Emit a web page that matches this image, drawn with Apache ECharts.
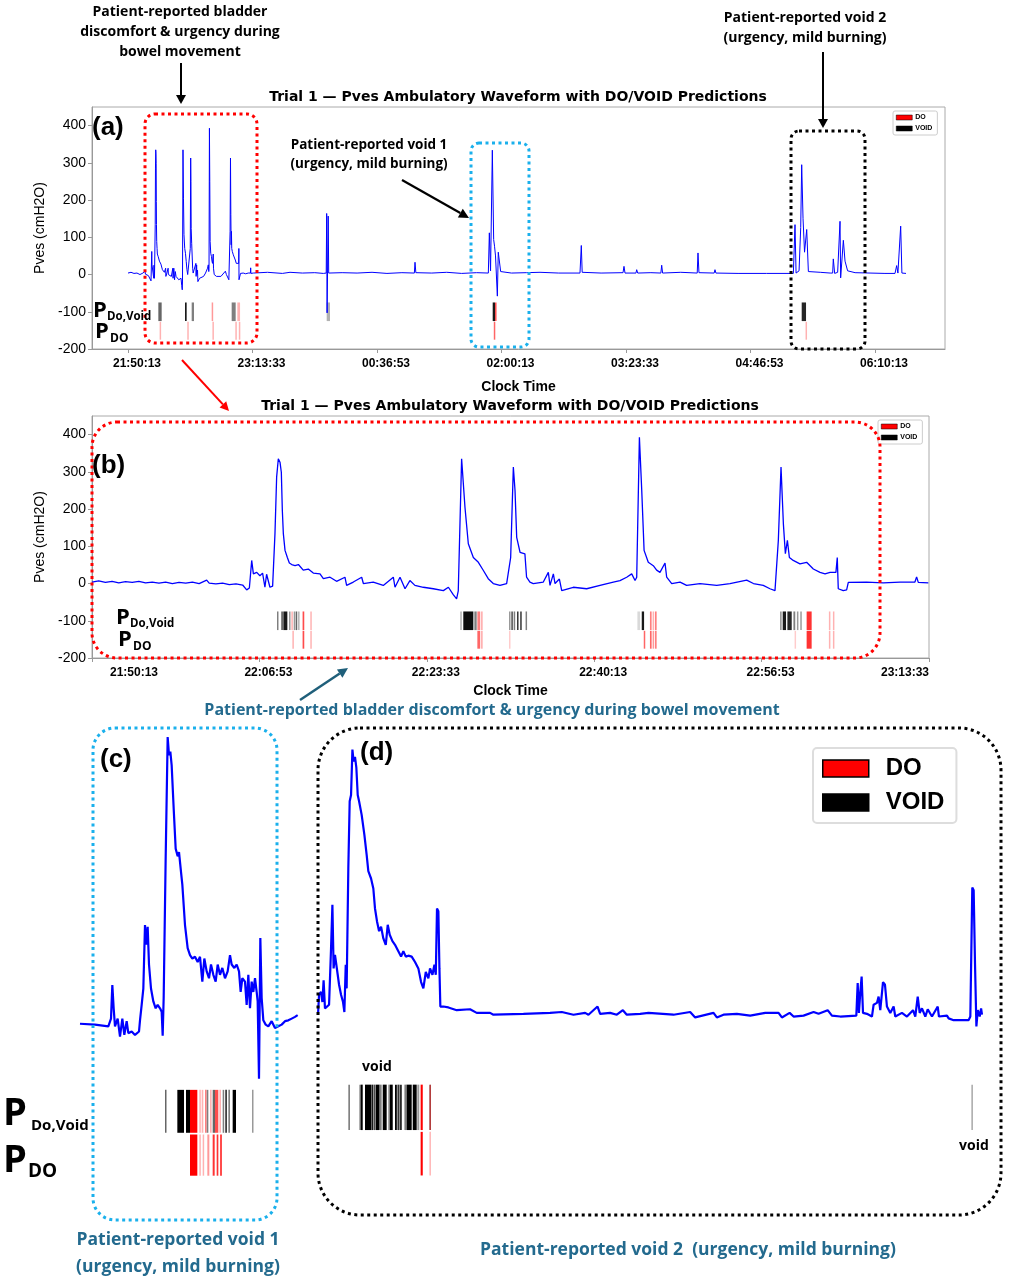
<!DOCTYPE html>
<html>
<head>
<meta charset="utf-8">
<script src="https://cdn.jsdelivr.net/npm/echarts@6/dist/echarts.min.js"></script>
<style>
html,body{margin:0;padding:0;background:#fff}
#chart{width:1010px;height:1285px}
</style>
</head>
<body>
<div id="chart"></div>
<script>
// 开始时刻 21:50:13，时间单位为秒
var START = 21 * 3600 + 50 * 60 + 13;

// (b) 21:50 - 23:13 段的压力波形 [秒, cmH2O]
var bWave = [[0,4],[40,7],[80,3],[120,6],[160,2],[200,5],[240,3],[280,6],[320,2],[360,4],[400,1],[440,4],[480,0],[520,3],[560,1],[600,4],[640,0],[685,9],[700,1],[740,-1],[780,1],[820,-3],[860,-1],[900,-4],[924,-17],[940,-12],
  [954,62],[964,26],[984,30],[1003,21],[1019,28],[1033,-10],[1043,25],[1063,-10],[1079,-7],[1093,134],[1103,286],[1113,335],[1123,326],[1131,299],[1137,196],[1143,134],[1153,89],[1167,70],[1179,55],[1193,51],[1213,48],[1233,51],[1262,36],[1292,39],[1322,28],[1362,26],[1382,13],[1422,17],[1461,6],[1511,17],[1521,-5],[1561,4],[1611,17],[1621,0],[1680,4],[1740,-5],[1800,17],[1810,-10],[1840,17],[1870,-14],[1899,8],[1929,-5],[1979,-10],[2039,-14],[2099,-19],[2129,-10],[2158,-30],[2178,-41],[2188,-20],
  [2208,335],[2228,205],[2248,107],[2278,70],[2308,57],[2338,35],[2367,13],[2397,0],[2437,-5],[2477,0],[2501,70],[2517,313],[2527,250],[2537,124],[2557,84],[2586,80],[2596,17],[2616,4],[2636,0],[2696,4],[2726,30],[2736,-5],[2756,26],[2766,0],[2792,12],[2806,-19],[2875,-10],[2955,-14],[3035,-5],[3114,4],[3154,8],[3194,17],[3224,26],[3244,8],[3254,17],
  [3270,393],[3284,250],[3298,89],[3323,57],[3353,48],[3373,36],[3393,30],[3423,55],[3433,17],[3463,0],[3513,4],[3552,-5],[3632,0],[3732,-5],[3811,0],[3911,9],[3951,0],[4010,-5],[4050,-14],[4080,-19],
  [4100,116],[4116,313],[4130,161],[4142,80],[4154,116],[4166,70],[4189,62],[4229,53],[4269,57],[4309,39],[4349,30],[4379,26],[4409,30],[4444,30],[4452,70],[4458,-14],[4488,-19],[4508,-17],[4518,3],[4627,4],[4727,2],[4827,4],[4916,4],[4926,18],[4936,3],[4996,2]];

// (a) 23:13 之后的波形
var aWaveRest = [[5033,4],[5600,6],[6200,3],[6506,6],[7000,4],[7500,5],[7844,3],[7960,4],[7979,164],[7995,-103],[8040,157],[8060,4],[8100,2],[8600,5],[9200,4],[9800,6],[10400,3],[11000,5],[11500,4],[11526,33],[11560,5],[12200,4],[12800,6],[13400,3],[14000,5],[14471,4],[14512,112],[14560,10],[14632,334],[14685,94],[14720,76],[14760,50],[14833,-58],[14870,60],[14966,8],[15400,4],[16000,5],[16546,6],[17300,4],[18152,4],[18205,78],[18240,6],[19000,4],[19880,5],[19919,22],[19960,4],[20400,4],[20429,13],[20470,4],[21000,5],[21400,4],[21433,25],[21470,4],[22200,6],[22860,4],[22891,58],[22930,5],[23540,4],[23574,13],[23610,4],[24500,3],[25650,3],[26721,3],[26787,134],[26830,4],[26950,10],[27016,126],[27056,295],[27110,150],[27170,60],[27257,121],[27324,8],[27800,6],[28200,4],[28300,4],[28325,42],[28380,3],[28500,6],[28570,4],[28595,143],[28620,-9],[28729,92],[28796,36],[28900,10],[29200,5],[29800,4],[30400,3],[30803,3],[30870,24],[30920,4],[31031,130],[31080,4],[31245,3]];

// (c) 排尿 1 放大
var cWave = [[0,2],[45,1],[85,-1],[93,8],[97,47],[101,20],[105,-1],[113,8],[120,-13],[127,8],[133,-11],[140,5],[145,-9],[155,-7],[165,-11],[177,-7],[180,6],[185,24],[190,43],[195,117],[199,94],[203,115],[207,71],[213,43],[220,28],[227,20],[233,24],[240,20],[245,16],[248,-12],[251,32],[257,195],[263,336],[267,315],[271,319],[275,303],[281,253],[287,206],[293,197],[297,202],[303,179],[307,164],[315,117],[323,90],[330,82],[337,78],[345,80],[353,74],[360,80],[367,51],[373,78],[380,63],[387,55],[393,71],[400,59],[407,51],[413,71],[420,59],[427,67],[435,55],[443,63],[450,82],[455,71],[463,67],[470,71],[477,63],[482,39],[487,55],[495,51],[500,24],[505,59],[510,20],[515,51],[520,39],[525,55],[530,39],[533,28],[537,-62],[541,102],[545,32],[550,6],[557,1],[565,-1],[575,5],[585,-3],[595,-1],[605,1],[615,5],[625,6],[635,8],[645,10],[653,12]];

// (d) 排尿 2 放大
var dWave = [[0,2],[7,24],[20,27],[29,16],[37,40],[46,9],[59,7],[73,13],[86,75],[95,123],[103,53],[112,68],[121,57],[130,46],[139,35],[152,24],[165,16],[174,5],[183,57],[189,31],[200,163],[209,237],[218,244],[227,294],[235,281],[244,286],[253,274],[262,244],[271,237],[288,222],[306,200],[321,178],[332,160],[350,152],[365,141],[376,119],[389,105],[403,94],[416,99],[431,86],[447,79],[460,101],[473,90],[491,83],[508,79],[530,72],[548,66],[563,72],[579,66],[596,67],[618,66],[640,60],[662,53],[680,38],[695,31],[711,49],[728,42],[739,53],[755,46],[768,57],[777,46],[785,119],[794,116],[801,53],[807,11],[827,11],[860,10],[915,7],
  [1003,8],[1047,4],[1135,4],[1157,2],[1355,3],[1531,4],[1608,5],[1685,2],[1762,4],[1784,2],[1844,11],[1861,3],[1927,4],[1971,2],[2011,7],[2037,2],[2125,3],[2180,4],[2345,2],[2455,5],[2488,-1],[2609,4],[2631,-1],[2675,2],[2763,3],[2851,1],[2950,4],[3038,4],[3060,-1],[3111,4],[3137,0],[3203,1],[3269,5],[3302,3],[3362,7],[3390,1],[3445,0],
  [3551,1],[3560,37],[3568,4],[3577,26],[3586,44],[3595,4],[3621,3],[3654,0],[3665,13],[3687,15],[3698,22],[3709,7],[3727,38],[3740,35],[3753,11],[3775,4],[3797,11],[3808,0],[3852,4],[3885,0],[3925,7],[3940,0],[3956,22],[3969,4],[3984,9],[4006,0],[4022,8],[4050,0],[4088,11],[4096,0],[4149,1],[4160,-2],[4193,-4],[4292,-4],[4303,0],[4316,142],[4325,139],[4334,57],[4343,-11],[4352,7],[4365,0],[4374,9],[4380,2]];

// 预测条 [起, 止, 概率]
var aVoid = [[1218,1352,0.6],[2289,2356,0.9],[2557,2650,0.5],[4163,4324,0.5],[7979,8113,0.3],[14646,14740,0.9],[27056,27230,0.85]];
var aVoidDo = [[3360,3400,0.4],[4390,4500,0.3],[14740,14780,0.7]];
var aDo = [[1270,1310,0.3],[2380,2420,0.3],[3390,3430,0.3],[4310,4350,0.3],[4450,4490,0.3],[14690,14730,0.6],[27210,27250,0.3]];

var bVoid = [[1105,1110,0.5],[1131,1136,0.7],[1143,1167,0.9],[1177,1181,0.4],[1205,1209,0.4],[1217,1222,0.6],[1231,1235,0.3],[2200,2204,0.3],[2218,2278,0.95],[2284,2298,0.5],[2491,2495,0.4],[2505,2510,0.7],[2519,2523,0.5],[2539,2544,0.8],[2558,2563,0.8],[2590,2595,0.5],[3258,3274,0.15],[3284,3298,0.9],[4110,4120,0.4],[4126,4146,0.9],[4154,4180,0.85],[4190,4201,0.5],[4211,4215,0.4],[4231,4235,0.4]];
var bVoidDo = [[1191,1195,0.3],[1258,1268,0.7],[1304,1308,0.3],[2302,2318,0.5],[2322,2334,0.3],[3333,3343,0.5],[3349,3357,0.3],[3363,3373,0.5],[4269,4299,0.8],[4402,4406,0.3],[4426,4430,0.3]];
var bDo = [[1197,1201,0.3],[1258,1268,0.7],[1304,1308,0.3],[2302,2318,0.6],[2322,2334,0.3],[2491,2495,0.2],[3296,3300,0.6],[3333,3343,0.6],[3349,3357,0.4],[3363,3373,0.5],[4197,4201,0.2],[4269,4299,0.8],[4402,4408,0.3],[4426,4432,0.3]];

var cVoid = [[255,259,0.6],[292,312,1],[318,330,1],[380,385,0.5],[398,405,0.6],[428,432,0.5],[436,440,0.9],[445,450,0.5],[458,468,1],[516,520,0.4]];
var cVoidDo = [[330,352,1],[358,362,0.3],[365,370,0.3],[375,378,0.5],[390,395,0.3],[405,415,0.7],[418,423,0.3]];
var cDo = [[330,352,1],[358,362,0.3],[368,372,0.3],[382,388,0.4],[398,404,0.8],[410,415,0.8],[420,426,0.7]];

var dVoid = [[200,211,0.5],[273,282,0.5],[282,295,1],[310,350,1],[352,365,0.9],[368,380,0.7],[382,405,1],[405,420,0.5],[427,453,1],[464,475,0.5],[475,493,1],[508,520,1],[524,538,0.8],[542,552,1],[570,585,0.5],[585,618,1],[625,651,1],[655,668,0.4],[735,744,0.6],[4310,4318,0.35]];
var dVoidDo = [[677,691,1],[735,744,0.5]];
var dDo = [[677,691,1],[735,744,0.3]];

var aTicks = [0, 5000, 10000, 15000, 20000, 25000, 30000];
var bTicks = [0, 1000, 2000, 3000, 4000, 5000];
var yTicks = [-200, -100, 0, 100, 200, 300, 400];

// 两行条带的纵向范围（cmH2O 坐标）
var ROWS = [[-75, -125], [-127, -175]];

function pad(n) { return (n < 10 ? '0' : '') + n; }
function clock(s) {
    var t = (START + s) % 86400;
    return pad(Math.floor(t / 3600)) + ':' + pad(Math.floor(t % 3600 / 60)) + ':' + pad(Math.round(t % 60));
}
function rows(list, row) {
    return list.map(function (d) { return [d[0], d[1], row, d[2]]; });
}
function renderBar(params, api) {
    var band = ROWS[api.value(2)];
    var p0 = api.coord([api.value(0), band[0]]);
    var p1 = api.coord([api.value(1), band[1]]);
    return {
        type: 'rect',
        shape: { x: p0[0], y: p0[1], width: Math.max(p1[0] - p0[0], 1.5), height: p1[1] - p0[1] },
        style: { fill: api.visual('color'), opacity: api.value(3) }
    };
}

var tickFont = { fontFamily: 'Liberation Sans', fontWeight: 'bold', fontSize: 12, color: '#000' };
function timeAxis(idx, max, ticks) {
    return {
        type: 'value', gridIndex: idx, min: idx === 0 ? -1446 : 0, max: max,
        name: 'Clock Time', nameLocation: 'middle', nameGap: idx === 0 ? 31 : 26,
        nameTextStyle: { fontFamily: 'Liberation Sans', fontWeight: 'bold', fontSize: 14, color: '#000' },
        axisLine: { show: true, onZero: false, lineStyle: { color: '#999' } },
        axisTick: { show: true, length: 4, lineStyle: { color: '#999' }, customValues: ticks },
        axisLabel: Object.assign({ customValues: ticks, margin: 9, padding: [0, 0, 0, 18],
            alignMinLabel: idx === 1 ? 'left' : 'center', alignMaxLabel: idx === 1 ? 'right' : 'center',
            formatter: function (v) { return clock(v); } }, tickFont),
        splitLine: { show: false }
    };
}
function pvesAxis(idx) {
    return {
        type: 'value', gridIndex: idx, min: -200, max: 450,
        name: 'Pves (cmH2O)', nameLocation: 'middle', nameGap: 45,
        nameTextStyle: { fontFamily: 'Liberation Sans', fontSize: 14, color: '#000' },
        axisLine: { show: true, onZero: false, lineStyle: { color: '#999' } },
        axisTick: { show: true, length: 4, lineStyle: { color: '#999' }, customValues: yTicks },
        axisLabel: { customValues: yTicks, fontFamily: 'Liberation Sans', fontSize: 14, color: '#000', margin: 6 },
        splitLine: { show: false }
    };
}

function barSeries(name, color, idx, data) {
    return { name: name, type: 'custom', xAxisIndex: idx, yAxisIndex: idx, renderItem: renderBar,
        itemStyle: { color: color }, data: data, z: 3, silent: true };
}
function waveSeries(idx, data, width) {
    return { name: 'Pves', type: 'line', xAxisIndex: idx, yAxisIndex: idx, data: data, showSymbol: false,
        lineStyle: { color: '#0000ff', width: width }, z: 4, silent: true };
}

// 标注：虚线框、箭头、文字
function dotBox(x, y, w, h, r, color) {
    return { type: 'rect', z: 50, shape: { x: x, y: y, width: w, height: h, r: r },
        style: { fill: null, stroke: color, lineWidth: 3, lineDash: [3, 3.5] } };
}
function arrow(x1, y1, x2, y2, color, lw, hl, hw) {
    var a = Math.atan2(y2 - y1, x2 - x1), c = Math.cos(a), s = Math.sin(a);
    var bx = x2 - hl * c, by = y2 - hl * s;
    return [
        { type: 'line', z: 60, shape: { x1: x1, y1: y1, x2: bx, y2: by }, style: { stroke: color, lineWidth: lw } },
        { type: 'polygon', z: 60, shape: { points: [[x2, y2], [bx - hw * s, by + hw * c], [bx + hw * s, by - hw * c]] }, style: { fill: color } }
    ];
}
var ANN = 'Open Sans';
function txt(x, y, text, size, opt) {
    opt = opt || {};
    return { type: 'text', z: 70, x: x, y: y, style: {
        text: text, fontSize: size, fontWeight: opt.weight || 'bold', fontFamily: opt.font || ANN,
        fill: opt.color || '#000', align: opt.align || 'center', verticalAlign: 'middle', lineHeight: opt.lh || size * 1.3 } };
}
function pLabel(x, y, sub, big, small, dx, dy) {
    return [txt(x, y, 'P', big, { align: 'left' }), txt(x + dx, y + dy, sub, small, { align: 'left' })];
}

var teal = '#236a8e';
var graphics = [].concat(
    txt(180, 32, 'Patient-reported bladder\ndiscomfort & urgency during\nbowel movement', 14, { lh: 20 }),
    arrow(181, 63, 181, 104, '#000', 2, 9, 5),
    txt(805, 28, 'Patient-reported void 2\n(urgency, mild burning)', 14, { lh: 20 }),
    arrow(823, 52, 823, 128, '#000', 2, 9, 5),
    txt(518, 97, 'Trial 1 \u2014 Pves Ambulatory Waveform with DO/VOID Predictions', 14, { font: 'DejaVu Sans' }),
    txt(92, 128, '(a)', 26, { align: 'left', font: 'Liberation Sans' }),
    txt(369, 155, 'Patient-reported void 1\n(urgency, mild burning)', 13.5, { lh: 19 }),
    arrow(402, 180, 469, 218, '#000', 2.2, 10, 5),
    dotBox(145, 114, 112, 229, 10, '#ff0000'),
    dotBox(471, 143, 58, 204, 8, '#1ab0ec'),
    dotBox(791, 131, 74, 218, 8, '#000'),
    pLabel(93, 311, 'Do,Void', 22, 11.5, 14, 6),
    pLabel(95, 332, 'DO', 22, 12, 15, 7),
    arrow(182, 360, 229, 411, '#ff0000', 2, 9, 4.5),
    txt(510, 406, 'Trial 1 \u2014 Pves Ambulatory Waveform with DO/VOID Predictions', 14, { font: 'DejaVu Sans' }),
    txt(92, 466, '(b)', 26, { align: 'left', font: 'Liberation Sans' }),
    dotBox(92, 422, 788, 236, 25, '#ff0000'),
    pLabel(116, 618, 'Do,Void', 22, 11.5, 14, 6),
    pLabel(118, 640, 'DO', 22, 12, 15, 7),
    arrow(300, 700, 348, 668, '#1f5f7a', 2.5, 10, 5),
    txt(492, 710, 'Patient-reported bladder discomfort & urgency during bowel movement', 16, { color: teal }),
    dotBox(93, 728, 184, 492, 22, '#1ab0ec'),
    txt(100, 760, '(c)', 26, { align: 'left', font: 'Liberation Sans' }),
    pLabel(3, 1114, 'Do,Void', 38, 15, 28, 12),
    pLabel(3, 1161, 'DO', 38, 19, 25, 11),
    txt(178, 1254, 'Patient-reported void 1\n(urgency, mild burning)', 17.5, { color: teal, lh: 27 }),
    dotBox(318, 728, 683, 487, 42, '#000'),
    txt(360, 753, '(d)', 26, { align: 'left', font: 'Liberation Sans' }),
    txt(377, 1067, 'void', 14),
    txt(974, 1146, 'void', 14),
    txt(688, 1250, 'Patient-reported void 2  (urgency, mild burning)', 17.5, { color: teal })
);

var smallLegend = {
    orient: 'vertical', data: ['DO', 'VOID'], icon: 'rect', itemWidth: 16, itemHeight: 5, itemGap: 4,
    padding: [3, 5, 3, 3], backgroundColor: '#fff', borderColor: '#ccc', borderWidth: 1, borderRadius: 2,
    itemStyle: { borderColor: '#000', borderWidth: 0.5 }, selectedMode: false,
    textStyle: { fontSize: 7, fontWeight: 'bold', fontFamily: 'Liberation Sans', color: '#000', padding: [0, 0, 0, -2] }
};

var option = {
    animation: false,
    backgroundColor: '#fff',
    grid: [
        { left: 92, top: 107, width: 853, height: 242, show: true, borderColor: '#aaa', borderWidth: 1 },
        { left: 92, top: 416, width: 837, height: 242, show: true, borderColor: '#aaa', borderWidth: 1 },
        { left: 80, top: 725, width: 220, height: 455 },
        { left: 318, top: 735, width: 664, height: 445 }
    ],
    xAxis: [
        timeAxis(0, 32811, aTicks),
        timeAxis(1, 5000, bTicks),
        { type: 'value', gridIndex: 2, min: 0, max: 660, show: false },
        { type: 'value', gridIndex: 3, min: 0, max: 4380, show: false }
    ],
    yAxis: [
        pvesAxis(0),
        pvesAxis(1),
        { type: 'value', gridIndex: 2, min: -180, max: 350, show: false },
        { type: 'value', gridIndex: 3, min: -180, max: 310, show: false }
    ],
    legend: [
        Object.assign({ left: 893, top: 111 }, smallLegend),
        Object.assign({ left: 878, top: 420 }, smallLegend),
        {
            left: 813, top: 748, orient: 'vertical', data: ['DO', 'VOID'], icon: 'rect', itemWidth: 46, itemHeight: 17,
            itemGap: 5, padding: [6, 12, 6, 9], backgroundColor: '#fff', borderColor: '#ddd', borderWidth: 2, borderRadius: 4,
            itemStyle: { borderColor: '#000', borderWidth: 1.5 }, selectedMode: false,
            textStyle: { fontSize: 24, lineHeight: 29, fontWeight: 'bold', fontFamily: 'Liberation Sans', color: '#000', padding: [0, 0, 0, 12] }
        }
    ],
    graphic: graphics,
    series: [
        waveSeries(0, bWave.concat(aWaveRest), 1),
        barSeries('VOID', '#000', 0, rows(aVoid, 0)),
        barSeries('DO', '#ff0000', 0, rows(aVoidDo, 0).concat(rows(aDo, 1))),
        waveSeries(1, bWave, 1.3),
        barSeries('VOID', '#000', 1, rows(bVoid, 0)),
        barSeries('DO', '#ff0000', 1, rows(bVoidDo, 0).concat(rows(bDo, 1))),
        waveSeries(2, cWave, 2.2),
        barSeries('VOID', '#000', 2, rows(cVoid, 0)),
        barSeries('DO', '#ff0000', 2, rows(cVoidDo, 0).concat(rows(cDo, 1))),
        waveSeries(3, dWave, 2.2),
        barSeries('VOID', '#000', 3, rows(dVoid, 0)),
        barSeries('DO', '#ff0000', 3, rows(dVoidDo, 0).concat(rows(dDo, 1)))
    ]
};

var myChart = echarts.init(document.getElementById('chart'));
myChart.setOption(option);
</script>
</body>
</html>
